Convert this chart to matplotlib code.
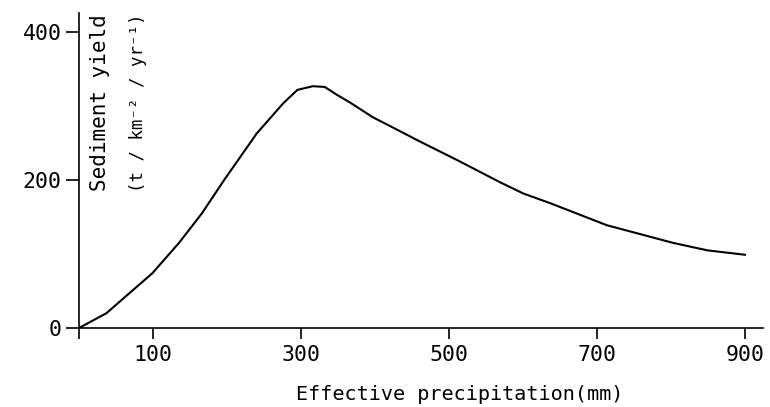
import matplotlib
matplotlib.use("Agg")
import matplotlib.pyplot as plt

# curve: effective precipitation (mm) vs sediment yield
precip = [0, 37, 68, 99, 135, 166, 196, 240, 276, 295, 316, 332, 349, 366,
          397, 434, 457, 511, 569, 600, 636, 713, 803, 849, 900]
sediment = [0, 20, 47, 74, 115, 155, 200, 263, 304, 322, 327, 326, 315, 305,
            285, 266, 254, 227, 197, 182, 169, 139, 115, 105, 99]

x_ticks = [0, 100, 300, 500, 700, 900]
x_tick_labels = ["", "100", "300", "500", "700", "900"]
y_ticks = [0, 200, 400]
y_tick_labels = ["0", "200", "400"]

FONT = "DejaVu Sans Mono"
W, H = 770, 407

fig = plt.figure(figsize=(W / 100, H / 100), dpi=100)
ax = fig.add_axes([79 / W, (H - 328) / H, 684 / W, (328 - 13) / H])

ax.plot(precip, sediment, color="black", lw=1.5,
        solid_capstyle="round", solid_joinstyle="round")

ax.set_xlim(0, 924)
ax.set_ylim(0, 426)
for side in ("top", "right"):
    ax.spines[side].set_visible(False)
for side in ("left", "bottom"):
    ax.spines[side].set_linewidth(1.2)

ax.set_xticks(x_ticks)
ax.set_xticklabels(x_tick_labels, fontfamily=FONT, fontsize=15.5)
ax.set_yticks(y_ticks)
ax.set_yticklabels(y_tick_labels, fontfamily=FONT, fontsize=15.5)
ax.tick_params(axis="x", direction="out", length=8, width=1.2, pad=4)
ax.tick_params(axis="y", direction="out", length=9.5, width=1.2, pad=3)

# y label sits inside the axes, next to the spine
ax.text(100 / W, 1 - 14 / H, "Sediment yield", transform=fig.transFigure,
        rotation=90, ha="center", va="top", fontfamily=FONT, fontsize=15)
ax.text(138 / W, 1 - 14 / H, "(t / km⁻² / yr⁻¹)", transform=fig.transFigure,
        rotation=90, ha="center", va="top", fontfamily=FONT, fontsize=12.5)

fig.text(460 / W, 1 - 394 / H, "Effective precipitation(mm)", ha="center",
         va="center", fontfamily=FONT, fontsize=14.5)

fig.savefig("out.png", dpi=100)
